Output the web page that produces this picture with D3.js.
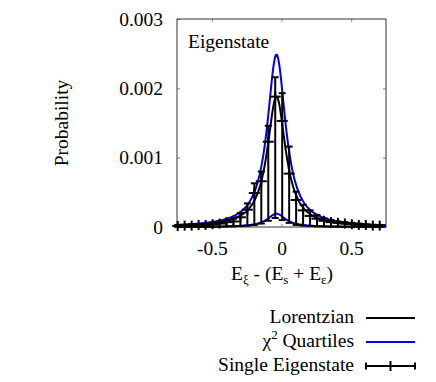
<!DOCTYPE html>
<html>
<head>
<meta charset="utf-8">
<script src="https://cdn.jsdelivr.net/npm/d3@7.9.0/dist/d3.min.js"></script>
<style>
  body { margin: 0; background: #fff; }
  svg { display: block; }
  text { font-family: "Liberation Serif", "Times New Roman", Times, serif; fill: #000; }
</style>
</head>
<body>
<svg id="chart" width="436" height="382"></svg>
<script>
// single eigenstate histogram: bin centres, value, upper / lower error
const binX = [-0.745, -0.695, -0.645, -0.595, -0.545, -0.495, -0.445, -0.395, -0.345, -0.295,
              -0.245, -0.195, -0.145, -0.095, -0.045, 0.005, 0.055, 0.105, 0.155, 0.205,
              0.255, 0.305, 0.355, 0.405, 0.455, 0.505, 0.555, 0.605, 0.655, 0.705]
const binY = [0.000015, 0.00002, 0.00002, 0.00003, 0.00003, 0.00004, 0.00005, 0.00007, 0.00008, 0.00014,
              0.00025, 0.00049, 0.00066, 0.00123, 0.00188, 0.00153, 0.00077, 0.00039, 0.00024, 0.00016,
              0.00012, 0.00009, 0.00007, 0.00006, 0.00005, 0.00004, 0.00003, 0.00003, 0.00002, 0.00002]
const binHi = [0.00003, 0.00003, 0.00004, 0.00004, 0.00005, 0.00006, 0.00008, 0.0001, 0.00012, 0.0002,
               0.00034, 0.00063, 0.0008, 0.00146, 0.00216, 0.00193, 0.00116, 0.00051, 0.00032, 0.00024,
               0.00017, 0.000125, 0.0001, 0.00008, 0.00007, 0.00006, 0.00005, 0.00004, 0.00003, 0.00003]
const binLo = [0.000002, 0.000002, 0.000003, 0.000003, 0.000004, 0.000005, 0.000006, 0.000008, 0.00001, 0.000015,
               0.00002, 0.00003, 0.00005, 0.00009, 0.00013, 0.0001, 0.00006, 0.00003, 0.00002, 0.000015,
               0.00001, 0.000008, 0.000006, 0.000005, 0.000004, 0.000003, 0.000003, 0.000002, 0.000002, 0.000002]

// fitted lorentzian: centre, half width, peak height
const lorentzFit = [-0.036, 0.08, 0.00188]
// chi^2 (1 dof) quartiles relative to the mean
const quartileFactors = [0.1015, 1.323]

const xTicks = [-0.5, 0, 0.5]
const yTicks = [0, 0.001, 0.002, 0.003]

const svg = d3.select('#chart')
const plotL = 177, plotR = 386, plotT = 19, plotB = 227
const fs = 19.5

const x = d3.scaleLinear().domain([-0.75, 0.75]).range([plotL, plotR])
const y = d3.scaleLinear().domain([0, 0.003]).range([plotB, plotT])

function lorentz(e) {
    let [c, g, p] = lorentzFit
    let d = (e - c) / g
    return p / (1 + d * d)
}

// axes with inward ticks (mirrored on top / right)
svg.append('g').attr('transform', `translate(${plotL},0)`)
    .call(d3.axisLeft(y).tickValues(yTicks).tickSizeInner(-3).tickSizeOuter(0).tickPadding(14)
        .tickFormat(d => d === 0 ? '0' : d.toFixed(3)))
svg.append('g').attr('transform', `translate(0,${plotB})`)
    .call(d3.axisBottom(x).tickValues(xTicks).tickSizeInner(-3).tickSizeOuter(0).tickPadding(14)
        .tickFormat(d => String(d)))
svg.append('g').attr('transform', `translate(${plotR},0)`)
    .call(d3.axisRight(y).tickValues(yTicks.slice(1, 3)).tickSizeInner(-3).tickSizeOuter(0).tickFormat(''))
svg.append('g').attr('transform', `translate(0,${plotT})`)
    .call(d3.axisTop(x).tickValues(xTicks).tickSizeInner(-3).tickSizeOuter(0).tickFormat(''))

svg.selectAll('g').attr('font-family', null).attr('font-size', null)
svg.selectAll('.domain').remove()
svg.selectAll('.tick line').attr('stroke', '#888')
svg.selectAll('.tick text').attr('font-size', fs)

svg.append('rect')
    .attr('x', plotL).attr('y', plotT)
    .attr('width', plotR - plotL).attr('height', plotB - plotT)
    .attr('fill', 'none').attr('stroke', '#333').attr('stroke-width', 1)

// curves
let grid = d3.range(-0.75, 0.7501, 0.004)
let line = d3.line().x(d => x(d[0])).y(d => y(d[1]))

svg.append('path')
    .attr('d', line(grid.map(e => [e, lorentz(e)])))
    .attr('fill', 'none').attr('stroke', '#000').attr('stroke-width', 2)

quartileFactors.forEach(f => {
    svg.append('path')
        .attr('d', line(grid.map(e => [e, lorentz(e) * f])))
        .attr('fill', 'none').attr('stroke', '#0000ee').attr('stroke-width', 2)
})

// error bars with plus markers
let bars = svg.append('g').attr('stroke', '#000').attr('stroke-width', 2)
binX.forEach((bx, i) => {
    let px = x(bx)
    bars.append('line').attr('x1', px).attr('x2', px).attr('y1', y(binLo[i])).attr('y2', y(binHi[i]))
    bars.append('line').attr('x1', px - 3.5).attr('x2', px + 3.5).attr('y1', y(binHi[i])).attr('y2', y(binHi[i]))
    bars.append('line').attr('x1', px - 3.5).attr('x2', px + 3.5).attr('y1', y(binLo[i])).attr('y2', y(binLo[i]))
    bars.append('line').attr('x1', px - 5.5).attr('x2', px + 5.5).attr('y1', y(binY[i])).attr('y2', y(binY[i]))
    bars.append('line').attr('x1', px).attr('x2', px).attr('y1', y(binY[i]) - 5).attr('y2', y(binY[i]) + 5)
})

// labels
svg.append('text').attr('x', 188).attr('y', 48).attr('font-size', fs).text('Eigenstate')

svg.append('text')
    .attr('transform', `translate(68,${(plotT + plotB) / 2}) rotate(-90)`)
    .attr('text-anchor', 'middle').attr('font-size', fs).text('Probability')

let xl = svg.append('text').attr('x', 282).attr('y', 280).attr('text-anchor', 'middle').attr('font-size', fs)
xl.append('tspan').text('E')
xl.append('tspan').attr('font-size', 13).attr('dy', 4).text('ξ')
xl.append('tspan').attr('dy', -4).text(' - (E')
xl.append('tspan').attr('font-size', 13).attr('dy', 4).text('s')
xl.append('tspan').attr('dy', -4).text(' + E')
xl.append('tspan').attr('font-size', 13).attr('dy', 4).text('ε')
xl.append('tspan').attr('dy', -4).text(')')

// legend
const legendY = [318, 342, 366]
const lx0 = 366, lx1 = 415, textX = 354

svg.append('text').attr('x', textX).attr('y', legendY[0] + 5).attr('text-anchor', 'end')
    .attr('font-size', fs).text('Lorentzian')
svg.append('line').attr('x1', lx0).attr('x2', lx1).attr('y1', legendY[0]).attr('y2', legendY[0])
    .attr('stroke', '#000').attr('stroke-width', 2)

let q = svg.append('text').attr('x', textX).attr('y', legendY[1] + 5).attr('text-anchor', 'end').attr('font-size', fs)
q.append('tspan').text('χ')
q.append('tspan').attr('font-size', 13).attr('dy', -8).text('2')
q.append('tspan').attr('dy', 8).text(' Quartiles')
svg.append('line').attr('x1', lx0).attr('x2', lx1).attr('y1', legendY[1]).attr('y2', legendY[1])
    .attr('stroke', '#0000ee').attr('stroke-width', 2)

svg.append('text').attr('x', textX).attr('y', legendY[2] + 5).attr('text-anchor', 'end')
    .attr('font-size', fs).text('Single Eigenstate')
let lg = svg.append('g').attr('stroke', '#000').attr('stroke-width', 2)
let ly = legendY[2], lm = (lx0 + lx1) / 2
lg.append('line').attr('x1', lx0).attr('x2', lx1).attr('y1', ly).attr('y2', ly)
lg.append('line').attr('x1', lx0).attr('x2', lx0).attr('y1', ly - 3.5).attr('y2', ly + 3.5)
lg.append('line').attr('x1', lx1).attr('x2', lx1).attr('y1', ly - 3.5).attr('y2', ly + 3.5)
lg.append('line').attr('x1', lm).attr('x2', lm).attr('y1', ly - 5).attr('y2', ly + 5)
</script>
</body>
</html>
